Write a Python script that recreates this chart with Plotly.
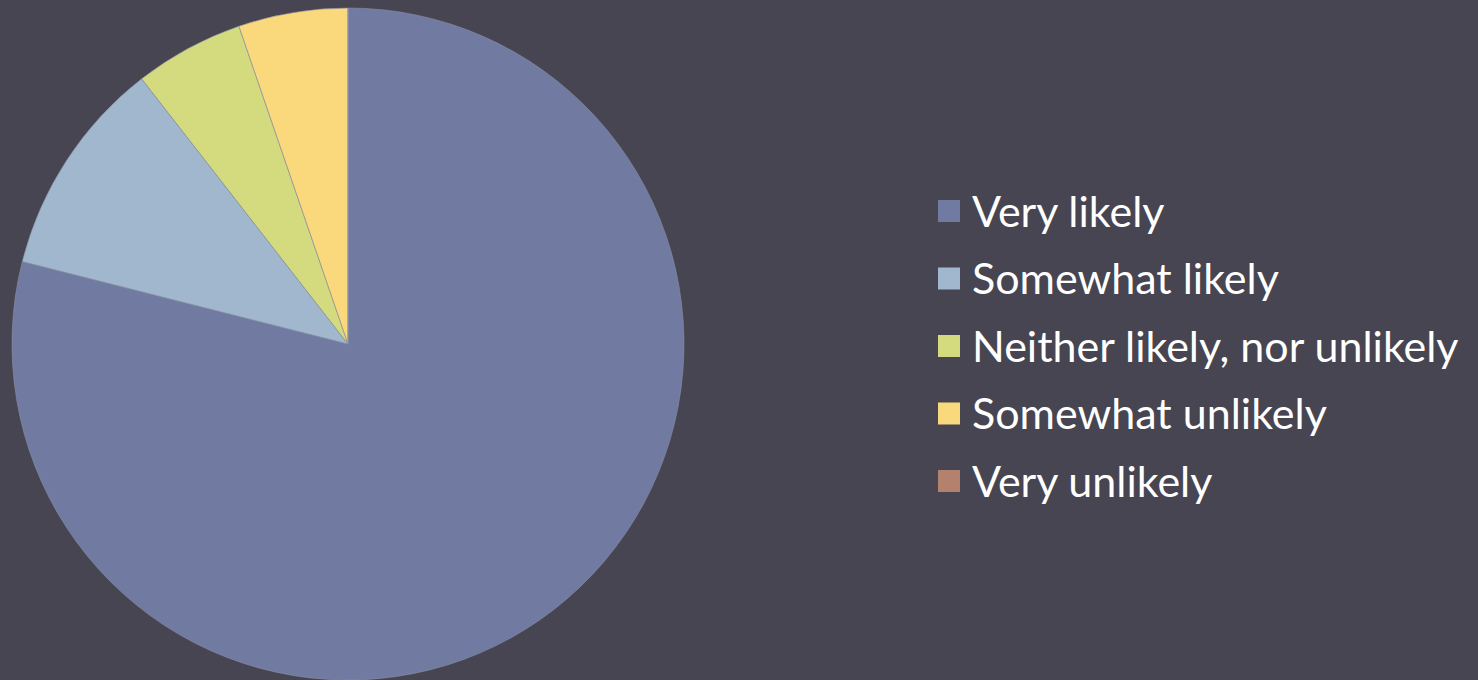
import plotly.graph_objects as go

labels = ["Very likely", "Somewhat likely", "Neither likely, nor unlikely", "Somewhat unlikely", "Very unlikely"]
values = [15, 2, 1, 1, 0]
colors = ["#717BA2", "#A0B7CD", "#D4DB7E", "#FAD87C", "#B5816F"]

W, H = 1478, 680
BG = "#464551"

fig = go.Figure()
fig.add_trace(go.Pie(
    labels=labels, values=values, sort=False, direction="clockwise", rotation=0,
    marker=dict(colors=colors, line=dict(width=0.6, color="#8A8FA8")),
    textinfo="none", hoverinfo="label+value+percent",
    domain=dict(x=[11 / W, 685 / W], y=[0, 672 / H]),
    showlegend=False,
))

# legend drawn with shapes + text (spacing matches the original slide)
y0 = 211
step = 67.5
for i, (lab, col) in enumerate(zip(labels, colors)):
    yc = y0 + i * step
    fig.add_shape(type="rect", xref="paper", yref="paper",
                  x0=938 / W, x1=960 / W, y0=1 - (yc + 11) / H, y1=1 - (yc - 11) / H,
                  fillcolor=col, line=dict(width=0))
    fig.add_annotation(text=lab, xref="paper", yref="paper", x=970 / W, y=1 - (yc - 1) / H,
                       xanchor="left", yanchor="middle", showarrow=False,
                       font=dict(family="Lato, Open Sans, sans-serif", size=43, color="#FFFFFF"))

fig.update_layout(
    width=W, height=H, margin=dict(l=0, r=0, t=0, b=0),
    paper_bgcolor=BG, plot_bgcolor=BG,
)
fig.write_html("out.html", config={"displayModeBar": False},
               post_script="document.body.style.margin='0';document.body.style.background='%s';" % BG)
